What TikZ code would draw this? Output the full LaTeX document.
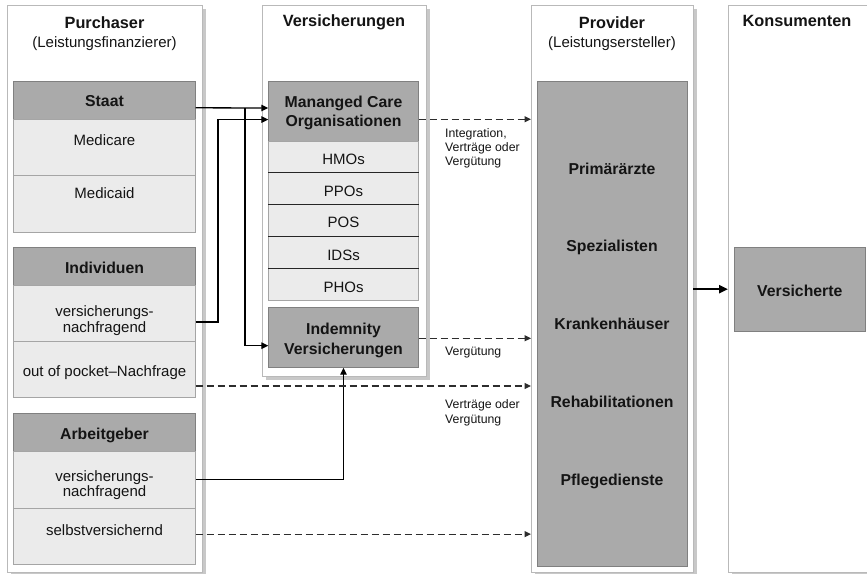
\documentclass[tikz,border=0pt]{standalone}
\usepackage{fontspec}
\setmainfont{Liberation Sans}
\usetikzlibrary{arrows.meta,shadows,calc}
\definecolor{panelc}{RGB}{185,185,185}
\definecolor{shadowc}{RGB}{200,200,200}
\definecolor{dfill}{RGB}{170,170,170}
\definecolor{dborder}{RGB}{128,128,128}
\definecolor{lfill}{RGB}{235,235,235}
\definecolor{lborder}{RGB}{165,165,165}
\definecolor{dashc}{RGB}{45,45,45}
\definecolor{txtc}{RGB}{20,20,20}
\begin{document}
\begin{tikzpicture}[x=1pt,y=-1pt,
  panel/.style={draw=panelc, fill=white, line width=0.9pt, inner sep=0pt, outer sep=0pt, anchor=north west,
    drop shadow={shadow xshift=3.5pt, shadow yshift=-3.5pt, fill=shadowc, opacity=1}},
  dbox/.style={draw=dborder, fill=dfill, line width=0.9pt, inner sep=0pt, outer sep=0pt, anchor=north west},
  lbox/.style={draw=lborder, fill=lfill, line width=0.9pt, inner sep=0pt, outer sep=0pt, anchor=north west},
  sepline/.style={draw=black!85, line width=1pt},
  ttl/.style={font=\fontsize{16.3}{19}\selectfont\bfseries, text=txtc, anchor=base, inner sep=0pt},
  btxt/.style={font=\fontsize{15.8}{19}\selectfont\bfseries, text=txtc, anchor=base, inner sep=0pt},
  rtxt/.style={font=\fontsize{15}{18}\selectfont, text=txtc, anchor=base, inner sep=0pt},
  stxt/.style={font=\fontsize{12.3}{14}\selectfont, text=txtc, anchor=base west, inner sep=0pt},
  conn/.style={draw=black, line width=1.3pt, -{Triangle[length=7pt,width=6.5pt]}},
  dconn/.style={draw=dashc, line width=1.2pt, dash pattern=on 7pt off 4pt, -{Triangle[length=6.5pt,width=6pt]}},
  bigconn/.style={draw=black, line width=2.2pt, -{Triangle[length=9pt,width=8pt]}}
]
\useasboundingbox (0,0) rectangle (867,573);

% panels
\node[panel, minimum width=195pt, minimum height=567pt] (p1) at (7,5) {};
\node[panel, minimum width=164pt, minimum height=371pt] (p2) at (262,5) {};
\node[panel, minimum width=162pt, minimum height=567pt] (p3) at (531,5) {};
\node[panel, minimum width=139pt, minimum height=567pt] (p4) at (728,5) {};

% titles
\node[ttl] (t1) at (104.5,28) {Purchaser};
\node[rtxt] (t1b) at (104.5,47) {(Leistungsfinanzierer)};
\node[ttl] (t2) at (344,26.5) {Versicherungen};
\node[ttl] (t3) at (612,28) {Provider};
\node[rtxt] (t3b) at (612,47) {(Leistungsersteller)};
\node[ttl] (t4) at (797,26.5) {Konsumenten};

% left column
\node[dbox, minimum width=182.4pt, minimum height=38pt] (staat) at (13.3,81) {};
\node[lbox, minimum width=182.4pt, minimum height=56.5pt] (medicare) at (13.3,119) {};
\node[lbox, minimum width=182.4pt, minimum height=56.5pt] (medicaid) at (13.3,175.5) {};
\node[dbox, minimum width=182.4pt, minimum height=38pt] (indiv) at (13.3,247.5) {};
\node[lbox, minimum width=182.4pt, minimum height=56pt] (indvers) at (13.3,285.5) {};
\node[lbox, minimum width=182.4pt, minimum height=56pt] (oop) at (13.3,341.5) {};
\node[dbox, minimum width=182.4pt, minimum height=38pt] (arbeit) at (13.3,413.3) {};
\node[lbox, minimum width=182.4pt, minimum height=57pt] (arbvers) at (13.3,451.3) {};
\node[lbox, minimum width=182.4pt, minimum height=55.7pt] (selbst) at (13.3,508.3) {};

\node[btxt] (tstaat) at (104.5,106.2) {Staat};
\node[rtxt] (tmedicare) at (104.5,145.5) {Medicare};
\node[rtxt] (tmedicaid) at (104.5,198) {Medicaid};
\node[btxt] (tindiv) at (104.5,273.3) {Individuen};
\node[rtxt] (tiv1) at (104.5,316.6) {versicherungs-};
\node[rtxt] (tiv2) at (104.5,332) {nachfragend};
\node[rtxt] (toop) at (104.5,376.7) {out of pocket–Nachfrage};
\node[btxt] (tarbeit) at (104.5,439.3) {Arbeitgeber};
\node[rtxt] (tav1) at (104.5,481) {versicherungs-};
\node[rtxt] (tav2) at (104.5,496.3) {nachfragend};
\node[rtxt] (tselbst) at (104.5,535) {selbstversichernd};

% middle column
\node[dbox, minimum width=150.4pt, minimum height=59.3pt] (mco) at (268.3,81.7) {};
\node[lbox, minimum width=150.4pt, minimum height=31.5pt] (hmo) at (268.3,141) {};
\node[lbox, minimum width=150.4pt, minimum height=32pt] (ppo) at (268.3,172.5) {};
\node[lbox, minimum width=150.4pt, minimum height=32pt] (pos) at (268.3,204.5) {};
\node[lbox, minimum width=150.4pt, minimum height=32pt] (ids) at (268.3,236.5) {};
\node[lbox, minimum width=150.4pt, minimum height=32pt] (pho) at (268.3,268.5) {};
\node[dbox, minimum width=150.4pt, minimum height=60pt] (indem) at (268.3,307.7) {};
\draw[sepline] (hmo.south west) -- (hmo.south east);
\draw[sepline] (ppo.south west) -- (ppo.south east);
\draw[sepline] (pos.south west) -- (pos.south east);
\draw[sepline] (ids.south west) -- (ids.south east);

\node[btxt] (tmco1) at (343.5,107) {Mananged Care};
\node[btxt] (tmco2) at (343.5,126.5) {Organisationen};
\node[rtxt] (thmo) at (343.5,164.3) {HMOs};
\node[rtxt] (tppo) at (343.5,196) {PPOs};
\node[rtxt] (tpos) at (343.5,227.8) {POS};
\node[rtxt] (tids) at (343.5,260.4) {IDSs};
\node[rtxt] (tpho) at (343.5,292.4) {PHOs};
\node[btxt] (tind1) at (343.5,334.3) {Indemnity};
\node[btxt] (tind2) at (343.5,354) {Versicherungen};

% provider
\node[dbox, minimum width=150pt, minimum height=485pt] (prov) at (537,81) {};
\node[btxt] (tp1) at (612,174) {Primärärzte};
\node[btxt] (tp2) at (612,251.7) {Spezialisten};
\node[btxt] (tp3) at (612,329.5) {Krankenhäuser};
\node[btxt] (tp4) at (612,407.3) {Rehabilitationen};
\node[btxt] (tp5) at (612,485) {Pflegedienste};

% consumers
\node[dbox, minimum width=131pt, minimum height=83.7pt] (versich) at (734.3,247.3) {};
\node[btxt] (tversich) at (799.8,296) {Versicherte};

% solid connectors
\coordinate (j1) at (245,108);
\coordinate (j2) at (218,0);
\draw[conn] ([yshift=-7.8pt]staat.east) -- ([yshift=3.35pt]mco.west);
\draw[conn] (j1) |- ([yshift=-8pt]indem.west);
\coordinate (i2) at ([yshift=-8.5pt]indvers.east);
\coordinate (m2) at ([yshift=-8.2pt]mco.west);
\draw[conn] (i2) -- (i2 -| j2) -- (j2 |- m2) -- (m2);
\draw[conn] (arbvers.east) -| (indem.south);

% dashed connectors
\coordinate (d1) at ([yshift=-7.9pt]mco.east);
\draw[dconn] (d1) -- (d1 -| p3.west);
\draw[dconn] ([yshift=-0.6pt]indem.east) -- ([yshift=-0.6pt]indem.east -| p3.west);
\coordinate (d3) at ([yshift=-16.5pt]oop.east);
\draw[dconn] (d3) -- (d3 -| p3.west);
\coordinate (d4) at ([yshift=2pt]selbst.east);
\draw[dconn] (d4) -- (d4 -| p3.west);

% provider to consumers
\draw[bigconn] (versich.west -| p3.east) -- (versich.west -| p4.west);

% labels
\node[stxt] (l1a) at (445,137) {Integration,};
\node[stxt] (l1b) at (445,151.3) {Verträge oder};
\node[stxt] (l1c) at (445,165.6) {Vergütung};
\node[stxt] (l2) at (445,355) {Vergütung};
\node[stxt] (l3a) at (445,408.5) {Verträge oder};
\node[stxt] (l3b) at (445,423) {Vergütung};
\end{tikzpicture}
\end{document}
